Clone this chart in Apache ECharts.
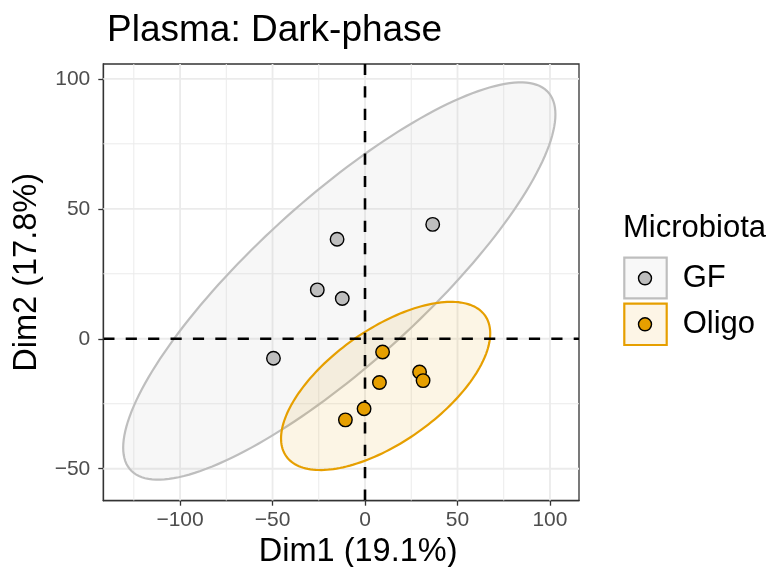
<!DOCTYPE html>
<html>
<head>
<meta charset="utf-8">
<script src="https://cdn.jsdelivr.net/npm/echarts@6/dist/echarts.min.js"></script>
<style>html,body{margin:0;padding:0;background:#fff;}#c{width:773px;height:567px;}</style>
</head>
<body>
<div id="c"></div>
<script>
// ---- data ----
const groups = ['GF', 'Oligo'];
const gfX = [36.6, -15.1, -25.8, -12.3, -49.5];
const gfY = [44.0, 38.3, 18.8, 15.5, -7.5];
const oligoX = [9.5, 29.5, 31.4, 7.8, -0.5, -10.6];
const oligoY = [-5.1, -12.8, -16.1, -16.8, -26.9, -31.2];
// 95% ellipse: centre and shape (Cholesky factors of the scaled covariance)
const ellCx = [-13.9, 11.15];
const ellCy = [22.2, -18.15];
const ellL11 = [116.85, 56.55];
const ellL21 = [64.1, 20.2];
const ellL22 = [41.6, 25.27];
// axis ticks / grid
const xTicks = [-100, -50, 0, 50, 100];
const yTicks = [-50, 0, 50, 100];
const xMinor = [-125, -75, -25, 25, 75];
const yMinor = [-25, 25, 75];
const xRange = [-141.5, 115.7];
const yRange = [-62.3, 105.7];

const FONT = '"Liberation Sans", Arial, sans-serif';
const colPoint = ['#BEBEBE', '#E69F00'];
const colFill = ['rgba(190,190,190,0.12)', 'rgba(230,159,0,0.1)'];
const fmt = v => (v < 0 ? '\u2212' + Math.abs(v) : String(v));

const gridItems = [];
xMinor.forEach(v => gridItems.push([0, v, 0]));
yMinor.forEach(v => gridItems.push([1, v, 0]));
xTicks.forEach(v => gridItems.push([0, v, 1]));
yTicks.forEach(v => gridItems.push([1, v, 1]));

function lineItem(params, api, dashed) {
  const cs = params.coordSys;
  const o = api.value(0), v = api.value(1), major = api.value(2);
  let shape;
  if (o === 0) {
    const x = api.coord([v, 0])[0];
    shape = { x1: x, y1: cs.y + cs.height, x2: x, y2: cs.y };
  } else {
    const y = api.coord([0, v])[1];
    shape = { x1: cs.x, y1: y, x2: cs.x + cs.width, y2: y };
  }
  return {
    type: 'line', shape: shape,
    style: dashed
      ? { stroke: '#000', lineWidth: 2.6, lineDash: [11.2, 11.2], lineCap: 'butt' }
      : { stroke: '#EBEBEB', lineWidth: major ? 1.8 : 1 }
  };
}

const ellData = groups.map((g, i) => [ellCx[i], ellCy[i], ellL11[i], ellL21[i], ellL22[i], i]);

const chart = echarts.init(document.getElementById('c'), null, { renderer: 'canvas' });
chart.setOption({
  backgroundColor: '#fff',
  animation: false,
  title: {
    text: 'Plasma: Dark-phase', left: 107, top: 12, padding: 0,
    textStyle: { fontFamily: FONT, fontSize: 37, fontWeight: 'normal', color: '#000' }
  },
  grid: {
    left: 103.3, right: 194, top: 64, bottom: 66.3,
    outerBoundsMode: 'none', containLabel: false,
    show: true, borderColor: '#333', borderWidth: 1.3, backgroundColor: '#fff'
  },
  xAxis: {
    type: 'value', min: xRange[0], max: xRange[1],
    name: 'Dim1 (19.1%)', nameLocation: 'middle', nameGap: 28,
    nameTextStyle: { fontFamily: FONT, fontSize: 32.5, color: '#000', padding: [0, 0, 0, 34] },
    axisLine: { show: true, onZero: false, lineStyle: { color: '#333', width: 1.3 } },
    axisTick: { show: true, length: 5, customValues: xTicks, lineStyle: { color: '#333', width: 1.3 } },
    axisLabel: { customValues: xTicks, formatter: fmt, fontFamily: FONT, fontSize: 21, color: '#4D4D4D', margin: 9 },
    splitLine: { show: false }
  },
  yAxis: {
    type: 'value', min: yRange[0], max: yRange[1],
    name: 'Dim2 (17.8%)', nameLocation: 'middle', nameGap: 54,
    nameTextStyle: { fontFamily: FONT, fontSize: 32.5, color: '#000', padding: [0, 0, 0, 20] },
    axisLine: { show: true, onZero: false, lineStyle: { color: '#333', width: 1.3 } },
    axisTick: { show: true, length: 5, customValues: yTicks, lineStyle: { color: '#333', width: 1.3 } },
    axisLabel: { customValues: yTicks, formatter: fmt, fontFamily: FONT, fontSize: 21, color: '#4D4D4D', margin: 13 },
    splitLine: { show: false }
  },
  series: [
    {
      type: 'custom', name: 'grid', z: 1, silent: true, clip: true,
      data: gridItems,
      renderItem: (params, api) => lineItem(params, api, false)
    },
    {
      type: 'custom', name: 'ellipses', z: 2, silent: true, clip: true,
      data: ellData,
      renderItem: function (params, api) {
        const cx = api.value(0), cy = api.value(1), a = api.value(2), b = api.value(3), c = api.value(4);
        const gi = api.value(5);
        const pts = [];
        const N = 180;
        for (let k = 0; k < N; k++) {
          const t = 2 * Math.PI * k / N;
          pts.push(api.coord([cx + a * Math.cos(t), cy + b * Math.cos(t) + c * Math.sin(t)]));
        }
        return {
          type: 'polygon', shape: { points: pts },
          style: { fill: colFill[gi], stroke: colPoint[gi], lineWidth: 2.2 }
        };
      }
    },
    {
      type: 'custom', name: 'zero', z: 3, silent: true, clip: true,
      data: [[0, 0, 1], [1, 0, 1]],
      renderItem: (params, api) => lineItem(params, api, true)
    },
    {
      type: 'scatter', name: 'GF', z: 5, symbol: 'circle', symbolSize: 13.5,
      data: gfX.map((x, i) => [x, gfY[i]]),
      itemStyle: { color: colPoint[0], borderColor: '#000', borderWidth: 1.4, opacity: 1 }
    },
    {
      type: 'scatter', name: 'Oligo', z: 5, symbol: 'circle', symbolSize: 13.5,
      data: oligoX.map((x, i) => [x, oligoY[i]]),
      itemStyle: { color: colPoint[1], borderColor: '#000', borderWidth: 1.4, opacity: 1 }
    }
  ],
  graphic: [
    { type: 'text', x: 623, y: 228, style: { text: 'Microbiota', font: '31px ' + FONT, fill: '#000', verticalAlign: 'middle' } },
    { type: 'rect', shape: { x: 624.3, y: 257.7, width: 42.4, height: 40.6 }, style: { fill: '#F8F8F8', stroke: '#BEBEBE', lineWidth: 2.2 } },
    { type: 'circle', shape: { cx: 645, cy: 278.3, r: 6.5 }, style: { fill: colPoint[0], stroke: '#000', lineWidth: 1.4 } },
    { type: 'text', x: 682.7, y: 278.3, style: { text: groups[0], font: '31px ' + FONT, fill: '#000', verticalAlign: 'middle' } },
    { type: 'rect', shape: { x: 624.3, y: 303.7, width: 42.4, height: 41.3 }, style: { fill: '#FDF5E6', stroke: '#E69F00', lineWidth: 2.2 } },
    { type: 'circle', shape: { cx: 645, cy: 324.3, r: 6.5 }, style: { fill: colPoint[1], stroke: '#000', lineWidth: 1.4 } },
    { type: 'text', x: 682.7, y: 324.3, style: { text: groups[1], font: '31px ' + FONT, fill: '#000', verticalAlign: 'middle' } }
  ]
});
</script>
</body>
</html>
